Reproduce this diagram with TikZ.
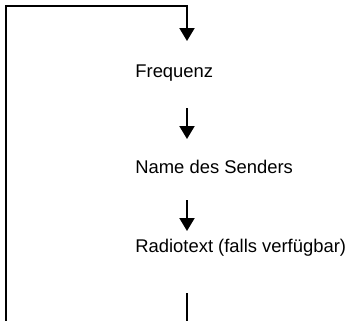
\documentclass[tikz,border=0pt]{standalone}
\usepackage{fontspec}
\setmainfont{Liberation Sans}
\usetikzlibrary{arrows.meta}
\begin{document}
\begin{tikzpicture}[x=0.5bp,y=-0.5bp,
  line/.style={line width=1bp},
  arr/.style={line width=1bp,-{Triangle[width=7.5bp,length=6.5bp]}},
  lbl/.style={anchor=west,inner sep=0pt,font=\fontsize{9.2bp}{11bp}\selectfont}]
\useasboundingbox (0,0) rectangle (348,321);
\node[lbl] (f) at (135,73) {Frequenz};
\node[lbl] (n) at (135,167) {Name des Senders};
\node[lbl] (r) at (135,248) {Radiotext (falls verfügbar)};
\coordinate (bl) at (6,322);
\coordinate (tl) at (6,6);
\coordinate (tr) at (187,6);
\coordinate (a1) at (187,41);
\coordinate (b0) at (187,108);
\coordinate (b1) at (187,139);
\coordinate (c0) at (187,200);
\coordinate (c1) at (187,231);
\coordinate (d0) at (187,293);
\coordinate (d1) at (187,322);
\draw[arr] (bl) -- (tl) -- (tr) -- (a1);
\draw[arr] (b0) -- (b1);
\draw[arr] (c0) -- (c1);
\draw[line] (d0) -- (d1);
\end{tikzpicture}
\end{document}
